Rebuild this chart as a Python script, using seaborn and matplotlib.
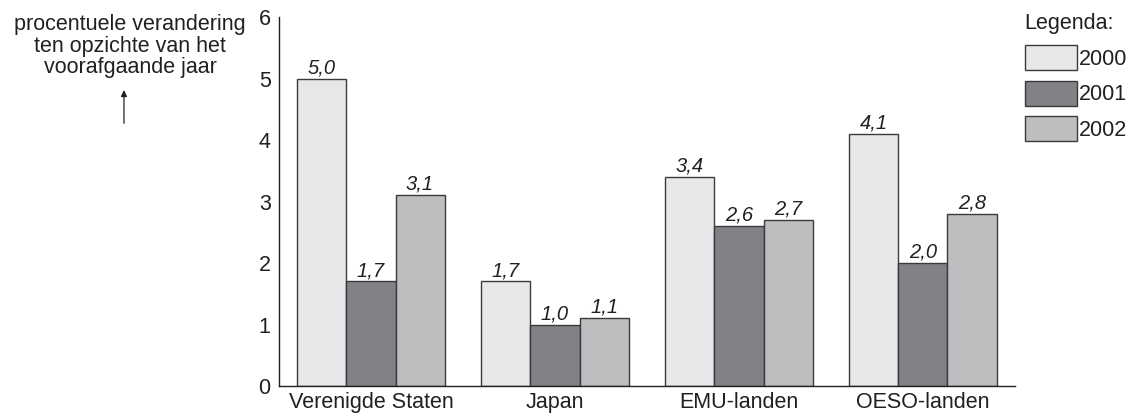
import pandas as pd
import matplotlib
matplotlib.use('Agg')
import matplotlib.pyplot as plt
import matplotlib.patches as mpatches
import seaborn as sns

# Data
landen = ['Verenigde Staten', 'Japan', 'EMU-landen', 'OESO-landen']
jaren = ['2000', '2001', '2002']
waarden_2000 = [5.0, 1.7, 3.4, 4.1]
waarden_2001 = [1.7, 1.0, 2.6, 2.0]
waarden_2002 = [3.1, 1.1, 2.7, 2.8]
kleuren = ['#e6e7e8', '#808285', '#bcbec0']

rows = []
for jaar, vals in zip(jaren, [waarden_2000, waarden_2001, waarden_2002]):
    for land, v in zip(landen, vals):
        rows.append({'land': land, 'jaar': jaar, 'waarde': v})
df = pd.DataFrame(rows)

sns.set_style("white")
plt.rcParams['font.family'] = ['Liberation Sans', 'DejaVu Sans']

fig = plt.figure(figsize=(11.31, 4.16), dpi=100)
ax = fig.add_axes([0.2467, 0.0721, 0.6507, 0.8869])

sns.barplot(data=df, x='land', y='waarde', hue='jaar', order=landen,
            hue_order=jaren, palette=kleuren, edgecolor='#3a3a3a',
            linewidth=1.0, width=0.8, legend=False, ax=ax, saturation=1)

# value labels in italic with decimal comma
for cont in ax.containers:
    labels = [f"{v:.1f}".replace('.', ',') for v in cont.datavalues]
    ax.bar_label(cont, labels=labels, padding=1, fontsize=14.5,
                 fontstyle='italic', color='#231f20')

ax.set_xlim(-0.5, 3.5)
ax.set_ylim(0, 6)
ax.set_yticks(range(0, 7))
ax.set_xlabel('')
ax.set_ylabel('')
sns.despine(ax=ax)
for s in ['left', 'bottom']:
    ax.spines[s].set_color('#231f20')
    ax.spines[s].set_linewidth(1.0)

ax.tick_params(axis='y', length=0, pad=6, labelsize=15.5, labelcolor='#231f20')
ax.tick_params(axis='x', which='major', length=0, pad=4, labelsize=15.5,
               labelcolor='#231f20')
ax.set_xticks([0.5, 1.5, 2.5, 3.5], minor=True)
ax.tick_params(axis='x', which='minor', direction='inout', length=10,
               width=1.0, color='#231f20')

# y-axis title with arrow
fig.text(0.115, 0.967, 'procentuele verandering\nten opzichte van het\nvoorafgaande jaar',
         ha='center', va='top', fontsize=15.5, color='#231f20', linespacing=1.05)
fig.add_artist(mpatches.FancyArrowPatch((0.1096, 0.697), (0.1096, 0.790),
                                        transform=fig.transFigure,
                                        arrowstyle='-|>', mutation_scale=9,
                                        color='#231f20', linewidth=0.9))

# legend
handles = [mpatches.Patch(facecolor=c, edgecolor='#3a3a3a', label=j)
           for c, j in zip(kleuren, jaren)]
leg = fig.legend(handles=handles, title='Legenda:', loc='upper left',
                 bbox_to_anchor=(0.906, 0.968), frameon=False, fontsize=15.5,
                 title_fontsize=15.5, handlelength=2.45, handleheight=1.4,
                 handletextpad=0.05, labelspacing=0.5, alignment='left',
                 borderaxespad=0, borderpad=0)
for t in leg.get_texts():
    t.set_color('#231f20')
leg.get_title().set_color('#231f20')

fig.savefig('out.png', dpi=100)
